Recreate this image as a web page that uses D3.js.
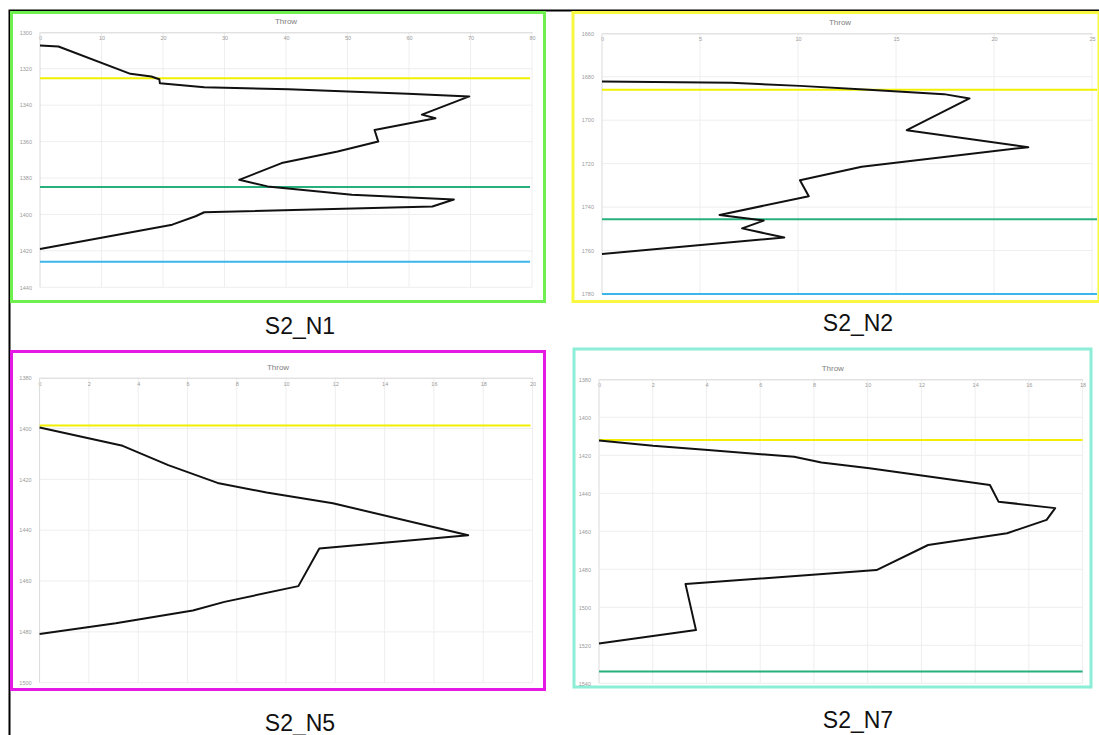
<!DOCTYPE html>
<html>
<head>
<meta charset="utf-8">
<script src="https://cdn.jsdelivr.net/npm/d3@7"></script>
<style>
  body { margin: 0; background: #fff; }
  svg { display: block; font-family: "Liberation Sans", Arial, sans-serif; }
  .grid line { stroke: #eeeeee; stroke-width: 1; }
  .axis text { fill: #9a9a9a; font-size: 5.5px; }
  .throw { fill: none; stroke: #111; stroke-width: 2; stroke-linejoin: round; }
</style>
</head>
<body>
<svg id="chart" width="1099" height="735"></svg>
<script>
// S2_N1
var n1XTicks = [0, 10, 20, 30, 40, 50, 60, 70, 80];
var n1YTicks = [1300, 1320, 1340, 1360, 1380, 1400, 1420, 1440];
var n1Throw = [0, 3, 14.7, 18.1, 19.4, 19.5, 26.7, 40.4, 59.8, 69.8, 62.1, 64.3, 54.4, 55.0, 48.4, 39.3, 32.4, 37.0, 50.7, 67.3, 63.8, 26.7, 25.3, 21.5, 0];
var n1Depth = [1307.3, 1307.8, 1322.8, 1324.3, 1325.8, 1328, 1330.2, 1331.2, 1333.8, 1335.2, 1345.2, 1347.2, 1353.6, 1360, 1365.4, 1371.8, 1381, 1384.6, 1389.2, 1391.8, 1395.6, 1398.8, 1401, 1405.6, 1419];
var n1Horizons = [1325.2, 1385, 1426];

// S2_N2
var n2XTicks = [0, 5, 10, 15, 20, 25];
var n2YTicks = [1660, 1680, 1700, 1720, 1740, 1760, 1780];
var n2Throw = [0, 6.6, 10.1, 13.6, 17.45, 18.75, 15.55, 21.75, 13.25, 10.1, 10.55, 6.0, 8.25, 7.15, 9.3, 0];
var n2Depth = [1682.2, 1682.8, 1684.2, 1686, 1688, 1690, 1704.6, 1712.4, 1721.4, 1727.6, 1735, 1743.6, 1746.2, 1749.8, 1754, 1761.6];
var n2Horizons = [1686, 1745.6, 1780];

// S2_N5
var n5XTicks = [0, 2, 4, 6, 8, 10, 12, 14, 16, 18, 20];
var n5YTicks = [1380, 1400, 1420, 1440, 1460, 1480, 1500];
var n5Throw = [0, 3.37, 5.22, 7.22, 9.21, 11.9, 17.39, 11.35, 10.5, 7.5, 6.22, 3.09, 0];
var n5Depth = [1399.6, 1406.8, 1414.4, 1421.4, 1425.2, 1429.4, 1442, 1447.2, 1462, 1468.2, 1471.6, 1476.6, 1480.8];
var n5Horizons = [1398.8];

// S2_N7
var n7XTicks = [0, 2, 4, 6, 8, 10, 12, 14, 16, 18];
var n7YTicks = [1380, 1400, 1420, 1440, 1460, 1480, 1500, 1520, 1540];
var n7Throw = [0, 2.01, 4.06, 7.26, 8.28, 10.07, 14.55, 14.87, 16.98, 16.66, 15.19, 12.25, 10.33, 3.22, 3.61, 0];
var n7Depth = [1412.2, 1415, 1417.2, 1420.8, 1423.8, 1426.8, 1435.6, 1444.4, 1447.8, 1454, 1461, 1467.2, 1480.4, 1487.8, 1512, 1519];
var n7Horizons = [1412, 1533.8];

var horizonColors = ['#f0f000', '#27b07c', '#3cb6ea'];

var svg = d3.select('#chart');

// outer frame, only top and left edges are visible
svg.append('path')
  .attr('d', 'M9.5,735V10.5H1099')
  .attr('fill', 'none')
  .attr('stroke', '#000')
  .attr('stroke-width', 2);

function panel(p) {
  var g = svg.append('g');

  g.append('rect')
    .attr('x', p.box[0]).attr('y', p.box[1])
    .attr('width', p.box[2]).attr('height', p.box[3])
    .attr('fill', '#fff')
    .attr('stroke', p.border)
    .attr('stroke-width', 3);

  var xTicks = p.xTicks, yTicks = p.yTicks;
  var x = d3.scaleLinear().domain([xTicks[0], xTicks[xTicks.length - 1]]).range(p.xr);
  var y = d3.scaleLinear().domain([yTicks[0], yTicks[yTicks.length - 1]]).range(p.yr);

  // gridlines
  g.append('g').attr('class', 'grid')
    .selectAll('line').data(xTicks.slice(1)).enter().append('line')
    .attr('x1', x).attr('x2', x)
    .attr('y1', p.yr[0]).attr('y2', p.yr[1]);
  g.append('g').attr('class', 'grid')
    .selectAll('line').data(yTicks.slice(1)).enter().append('line')
    .attr('x1', p.xr[0]).attr('x2', p.xr[1])
    .attr('y1', y).attr('y2', y);

  g.append('g').attr('class', 'axis')
    .attr('transform', 'translate(0,' + p.yr[0] + ')')
    .call(d3.axisBottom(x).tickValues(xTicks).tickSize(0).tickPadding(4).tickFormat(d3.format('d')))
    .call(function(a) { a.select('.domain').attr('stroke', '#d4d4d4'); });

  g.append('g').attr('class', 'axis')
    .attr('transform', 'translate(' + (p.xr[0] - 6) + ',0)')
    .call(d3.axisLeft(y).tickValues(yTicks).tickSize(0).tickPadding(2).tickFormat(d3.format('d')))
    .call(function(a) { a.select('.domain').remove(); });

  g.append('line')
    .attr('x1', p.xr[0]).attr('x2', p.xr[0])
    .attr('y1', p.yr[0]).attr('y2', p.yr[1])
    .attr('stroke', '#dadada');

  g.append('text')
    .attr('x', (p.xr[0] + p.xr[1]) / 2 + p.titleDx)
    .attr('y', p.yr[0] - 8)
    .attr('text-anchor', 'middle')
    .attr('fill', '#808080')
    .attr('font-size', 8)
    .text('Throw');

  p.horizons.forEach(function(h, i) {
    g.append('line')
      .attr('x1', p.xr[0]).attr('x2', p.xr[1] + p.lineExtra)
      .attr('y1', y(h)).attr('y2', y(h))
      .attr('stroke', horizonColors[i])
      .attr('stroke-width', 2);
  });

  var line = d3.line()
    .x(function(d) { return x(d[0]); })
    .y(function(d) { return y(d[1]); });

  g.append('path')
    .attr('class', 'throw')
    .attr('d', line(d3.zip(p.throwVals, p.depthVals)));

  svg.append('text')
    .attr('x', p.label[0]).attr('y', p.label[1])
    .attr('text-anchor', 'middle')
    .attr('font-size', 23)
    .attr('fill', '#111')
    .text(p.name);
}

panel({
  name: 'S2_N1', border: '#70f050', box: [11.5, 12.5, 533, 289],
  xr: [40, 532], yr: [32.3, 287.3], titleDx: 0, lineExtra: -2,
  xTicks: n1XTicks, yTicks: n1YTicks, throwVals: n1Throw, depthVals: n1Depth,
  horizons: n1Horizons, label: [300, 334]
});

panel({
  name: 'S2_N2', border: '#f8f840', box: [573, 12.5, 526, 289],
  xr: [602, 1092], yr: [33.3, 294], titleDx: -7, lineExtra: 5,
  xTicks: n2XTicks, yTicks: n2YTicks, throwVals: n2Throw, depthVals: n2Depth,
  horizons: n2Horizons, label: [858, 331]
});

panel({
  name: 'S2_N5', border: '#e41ae4', box: [11.5, 351.5, 533, 338],
  xr: [39.6, 532.5], yr: [377.7, 682.7], titleDx: -8, lineExtra: -2,
  xTicks: n5XTicks, yTicks: n5YTicks, throwVals: n5Throw, depthVals: n5Depth,
  horizons: n5Horizons, label: [300, 731]
});

panel({
  name: 'S2_N7', border: '#8ceed6', box: [574, 349, 517, 338],
  xr: [599, 1082.6], yr: [379.3, 683.3], titleDx: -8, lineExtra: 0,
  xTicks: n7XTicks, yTicks: n7YTicks, throwVals: n7Throw, depthVals: n7Depth,
  horizons: n7Horizons, label: [858, 728]
});
</script>
</body>
</html>
